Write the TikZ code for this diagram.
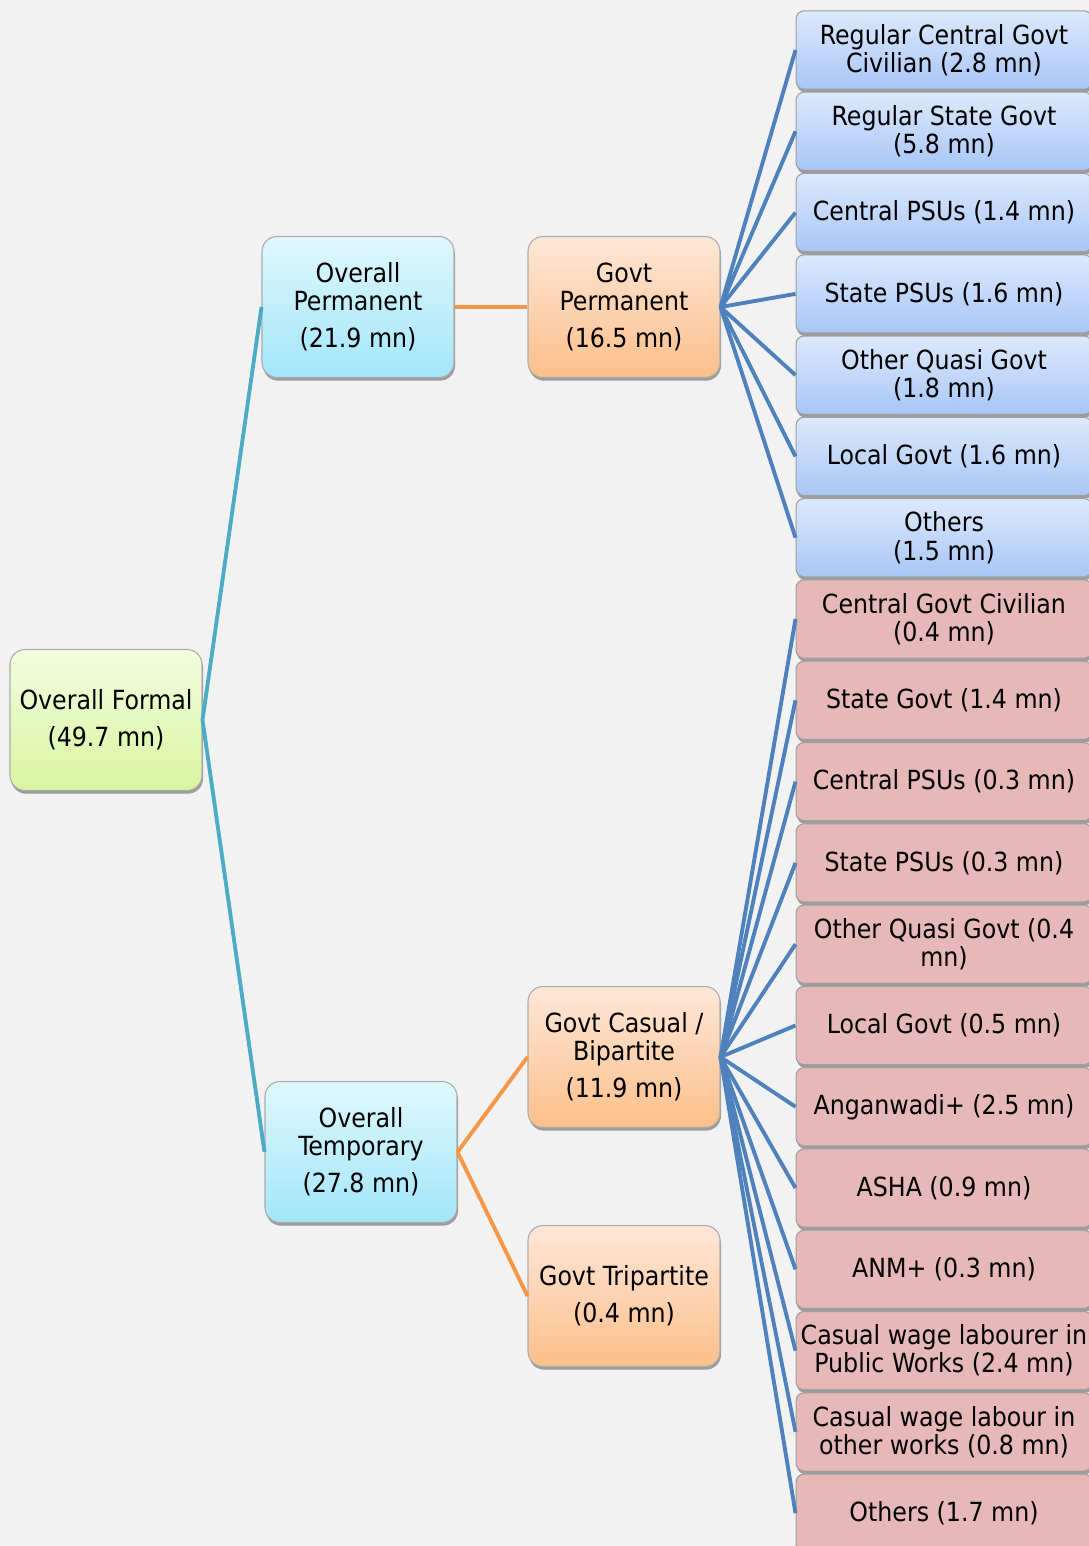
\documentclass[tikz,border=0pt]{standalone}
\usepackage{fontspec}
\setmainfont{DejaVu Sans Condensed}
\usepackage{tikz}
\usetikzlibrary{
        shadows,
        shapes,
        positioning
    }
\definecolor{bgcol}{HTML}{F2F2F2}
\definecolor{greentop}{HTML}{F3FDE0}
\definecolor{greenbot}{HTML}{D9F5A0}
\definecolor{cyantop}{HTML}{E0F8FE}
\definecolor{cyanbot}{HTML}{A2E6F9}
\definecolor{peachtop}{HTML}{FEE7D8}
\definecolor{peachbot}{HTML}{FCBF8A}
\definecolor{bluetop}{HTML}{DDE9FC}
\definecolor{bluebot}{HTML}{A8C6F7}
\definecolor{pinkfill}{HTML}{E6B8B7}
\definecolor{tealline}{HTML}{4BACC6}
\definecolor{orangeline}{HTML}{F79646}
\definecolor{blueline}{HTML}{4F81BD}

\begin{document}
\begin{tikzpicture}
[x=0.02cm, y=-0.02cm,
baseshape/.style={rectangle, text centered, align=center, font=\fontsize{15}{16}\selectfont, draw=gray!65, line width=0.6pt,
  drop shadow={shadow xshift=0.6pt, shadow yshift=-1.8pt, opacity=0.35, fill=black}},
mainbox/.style={baseshape, rounded corners=0.3cm, minimum width=3.84cm, minimum height=2.82cm, inner xsep=1pt},
formalbox/.style={mainbox, top color=greentop, bottom color=greenbot},
overallbox/.style={mainbox, top color=cyantop, bottom color=cyanbot},
govtbox/.style={mainbox, top color=peachtop, bottom color=peachbot},
leafbox/.style={baseshape, rounded corners=0.16cm, minimum width=5.92cm, minimum height=1.565cm, inner xsep=1pt, draw=gray!75},
permbox/.style={leafbox, top color=bluetop, bottom color=bluebot},
tempbox/.style={leafbox, fill=pinkfill},
tealedge/.style={tealline, line width=2.2pt},
orangeedge/.style={orangeline, line width=2.2pt},
blueedge/.style={blueline, line width=2.2pt},
gap/.style={below=0.04cm of #1},]
\fill [bgcol] (0,0) rectangle (1089,1546);
\useasboundingbox (0,0) rectangle (1089,1546);

\node (formal) [formalbox] at (106,720) {Overall Formal\\[5pt](49.7 mn)};
\node (operm) [overallbox] at (358,307) {Overall\\Permanent\\[5pt](21.9 mn)};
\node (otemp) [overallbox] at (361,1152) {Overall\\Temporary\\[5pt](27.8 mn)};
\node (gperm) [govtbox] at (624,307) {Govt\\Permanent\\[5pt](16.5 mn)};
\node (gcas) [govtbox] at (624,1057) {Govt Casual /\\Bipartite\\[5pt](11.9 mn)};
\node (gtri) [govtbox] at (624,1296) {Govt Tripartite\\[5pt](0.4 mn)};

\node (p1) [permbox] at (944,50) {Regular Central Govt\\Civilian (2.8 mn)};
\node (p2) [permbox, gap=p1] {Regular State Govt\\(5.8 mn)};
\node (p3) [permbox, gap=p2] {Central PSUs (1.4 mn)};
\node (p4) [permbox, gap=p3] {State PSUs (1.6 mn)};
\node (p5) [permbox, gap=p4] {Other Quasi Govt\\(1.8 mn)};
\node (p6) [permbox, gap=p5] {Local Govt (1.6 mn)};
\node (p7) [permbox, gap=p6] {Others\\(1.5 mn)};

\node (c1) [tempbox, gap=p7] {Central Govt Civilian\\(0.4 mn)};
\node (c2) [tempbox, gap=c1] {State Govt (1.4 mn)};
\node (c3) [tempbox, gap=c2] {Central PSUs (0.3 mn)};
\node (c4) [tempbox, gap=c3] {State PSUs (0.3 mn)};
\node (c5) [tempbox, gap=c4] {Other Quasi Govt (0.4\\mn)};
\node (c6) [tempbox, gap=c5] {Local Govt (0.5 mn)};
\node (c7) [tempbox, gap=c6] {Anganwadi+ (2.5 mn)};
\node (c8) [tempbox, gap=c7] {ASHA (0.9 mn)};
\node (c9) [tempbox, gap=c8] {ANM+ (0.3 mn)};
\node (c10) [tempbox, gap=c9] {Casual wage labourer in\\Public Works (2.4 mn)};
\node (c11) [tempbox, gap=c10] {Casual wage labour in\\other works (0.8 mn)};
\node (c12) [tempbox, gap=c11] {Others (1.7 mn)};

\draw [tealedge] (formal.east) -- (operm.west);
\draw [tealedge] (formal.east) -- (otemp.west);
\draw [orangeedge] (operm.east) -- (gperm.west);
\draw [orangeedge] (otemp.east) -- (gcas.west);
\draw [orangeedge] (otemp.east) -- (gtri.west);

\draw [blueedge] (gperm.east) -- (p1.west);
\draw [blueedge] (gperm.east) -- (p2.west);
\draw [blueedge] (gperm.east) -- (p3.west);
\draw [blueedge] (gperm.east) -- (p4.west);
\draw [blueedge] (gperm.east) -- (p5.west);
\draw [blueedge] (gperm.east) -- (p6.west);
\draw [blueedge] (gperm.east) -- (p7.west);

\draw [blueedge] (gcas.east) -- (c1.west);
\draw [blueedge] (gcas.east) -- (c2.west);
\draw [blueedge] (gcas.east) -- (c3.west);
\draw [blueedge] (gcas.east) -- (c4.west);
\draw [blueedge] (gcas.east) -- (c5.west);
\draw [blueedge] (gcas.east) -- (c6.west);
\draw [blueedge] (gcas.east) -- (c7.west);
\draw [blueedge] (gcas.east) -- (c8.west);
\draw [blueedge] (gcas.east) -- (c9.west);
\draw [blueedge] (gcas.east) -- (c10.west);
\draw [blueedge] (gcas.east) -- (c11.west);
\draw [blueedge] (gcas.east) -- (c12.west);

\end{tikzpicture}
\end{document}
